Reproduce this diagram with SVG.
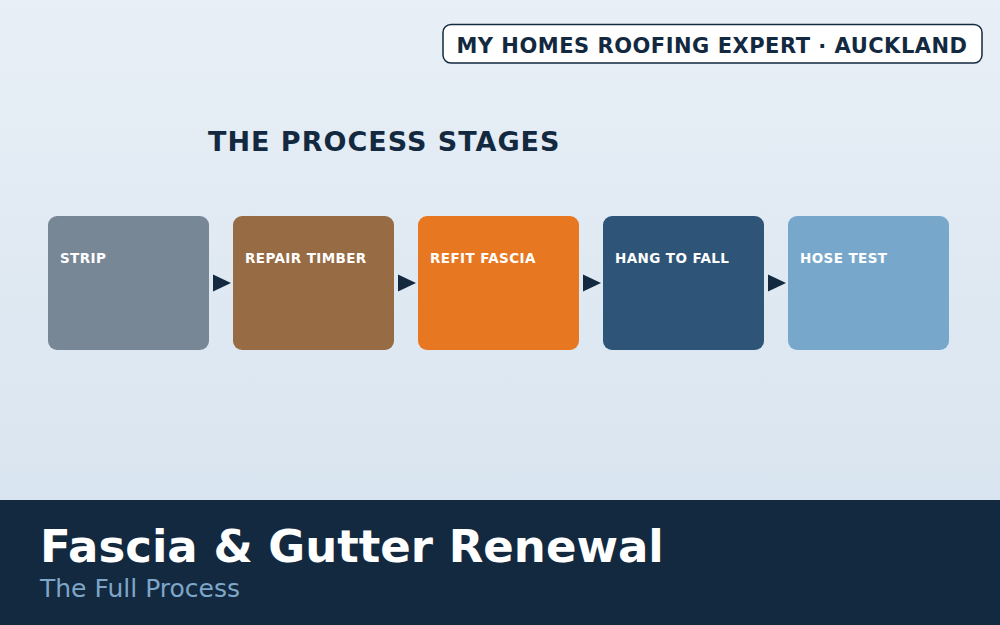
<svg xmlns="http://www.w3.org/2000/svg" width="1000" height="625" viewBox="0 0 1000 625">
<defs>
<linearGradient id="bg" x1="0" y1="0" x2="0" y2="1">
<stop offset="0" stop-color="#e8eff6"/>
<stop offset="1" stop-color="#d5e2ee"/>
</linearGradient>
<style>
.stage{stroke:none}
.lbl{font-family:"DejaVu Sans",sans-serif;font-weight:bold;font-size:13.5px;fill:#ffffff;letter-spacing:0.4px}
.arrow{fill:#13293f}
</style>
</defs>
<rect x="0" y="0" width="1000" height="625" fill="url(#bg)"/>
<g id="badge">
<rect x="443" y="24.5" width="539" height="38.5" rx="8" fill="#ffffff" stroke="#13293f" stroke-width="1.5"/>
<text x="712" y="52.5" text-anchor="middle" font-family="DejaVu Sans, sans-serif" font-weight="bold" font-size="21" fill="#13293f" letter-spacing="0.5">MY HOMES ROOFING EXPERT · AUCKLAND</text>
</g>
<g id="heading">
<text x="208" y="151" font-family="DejaVu Sans, sans-serif" font-weight="bold" font-size="27" fill="#13293f" letter-spacing="1">THE PROCESS STAGES</text>
</g>
<g id="strip">
<rect class="stage" x="48" y="216" width="161" height="134" rx="9" fill="#788796"/>
<text class="lbl" x="60" y="263">STRIP</text>
</g>
<g id="repair-timber">
<rect class="stage" x="233" y="216" width="161" height="134" rx="9" fill="#976b43"/>
<text class="lbl" x="245" y="263">REPAIR TIMBER</text>
</g>
<g id="refit-fascia">
<rect class="stage" x="418" y="216" width="161" height="134" rx="9" fill="#e87722"/>
<text class="lbl" x="430" y="263">REFIT FASCIA</text>
</g>
<g id="hang-to-fall">
<rect class="stage" x="603" y="216" width="161" height="134" rx="9" fill="#2e5578"/>
<text class="lbl" x="615" y="263">HANG TO FALL</text>
</g>
<g id="hose-test">
<rect class="stage" x="788" y="216" width="161" height="134" rx="9" fill="#78a7cc"/>
<text class="lbl" x="800" y="263">HOSE TEST</text>
</g>
<g id="connectors">
<path class="arrow" d="M213,274.5 L231,283 L213,291.5 Z"/>
<path class="arrow" d="M398,274.5 L416,283 L398,291.5 Z"/>
<path class="arrow" d="M583,274.5 L601,283 L583,291.5 Z"/>
<path class="arrow" d="M768,274.5 L786,283 L768,291.5 Z"/>
</g>
<g id="footer">
<rect x="0" y="500" width="1000" height="125" fill="#13293f"/>
<text x="40" y="562" font-family="DejaVu Sans, sans-serif" font-weight="bold" font-size="45" fill="#ffffff">Fascia &amp; Gutter Renewal</text>
<text x="40" y="597" font-family="DejaVu Sans, sans-serif" font-size="25" fill="#7ea6c8">The Full Process</text>
</g>
</svg>
